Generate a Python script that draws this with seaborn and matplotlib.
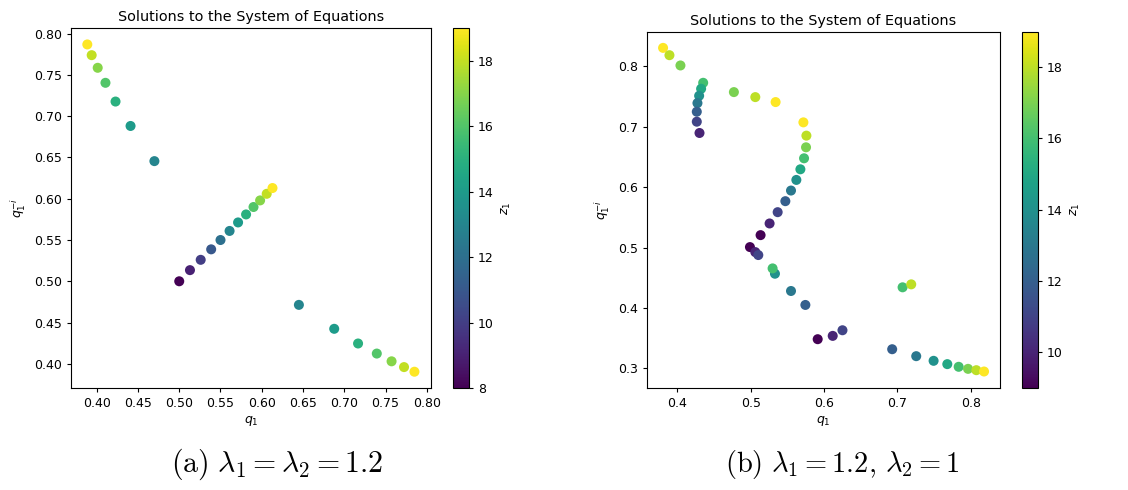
import numpy as np
import pandas as pd
import matplotlib
matplotlib.use("Agg")
import matplotlib.pyplot as plt
import seaborn as sns
from matplotlib.colors import Normalize
from matplotlib.cm import ScalarMappable

# ---- Panel (a): lambda1 = lambda2 = 1.2 ----
q1_a = [0.500, 0.513, 0.526, 0.5387, 0.550, 0.561, 0.5713, 0.581, 0.590, 0.598, 0.606, 0.613,
        0.4699, 0.441, 0.4228, 0.4106, 0.4012, 0.3939, 0.3886,
        0.645, 0.6878, 0.7167, 0.7394, 0.7573, 0.7724, 0.785]
q1o_a = [0.500, 0.5135, 0.526, 0.5387, 0.550, 0.561, 0.5713, 0.581, 0.590, 0.598, 0.606, 0.613,
         0.6456, 0.6882, 0.7178, 0.7405, 0.7587, 0.774, 0.787,
         0.4714, 0.4424, 0.4246, 0.4124, 0.403, 0.396, 0.3904]
z_a = [8, 9, 10, 11, 12, 13, 14, 15, 16, 17, 18, 19,
       13, 14, 15, 16, 17, 18, 19,
       13, 14, 15, 16, 17, 18, 19]

# ---- Panel (b): lambda1 = 1.2, lambda2 = 1 ----
q1_b = [0.3804, 0.3891, 0.4041, 0.4351, 0.4323, 0.4296, 0.4273, 0.4264, 0.4264, 0.4301,
        0.477, 0.5062, 0.5339,
        0.5718, 0.5759, 0.5754, 0.5727, 0.5677, 0.5622, 0.5549, 0.5472, 0.5367, 0.5257, 0.5134,
        0.4989, 0.5062, 0.5103,
        0.533, 0.5298, 0.5549, 0.5745,
        0.5913, 0.6118, 0.6251,
        0.6929, 0.7257, 0.7494, 0.7681, 0.7836, 0.7964, 0.8077, 0.8182,
        0.7071, 0.7189]
q1o_b = [0.8308, 0.8187, 0.8017, 0.773, 0.7631, 0.7515, 0.7394, 0.7251, 0.7086, 0.6899,
         0.7576, 0.7493, 0.7411,
         0.7075, 0.6855, 0.6662, 0.648, 0.6298, 0.6122, 0.5946, 0.577, 0.5588, 0.5401, 0.5208,
         0.501, 0.4927, 0.4878,
         0.4569, 0.4657, 0.4283, 0.4052,
         0.3485, 0.354, 0.3633,
         0.3319, 0.3204, 0.3127, 0.3072, 0.3028, 0.2994, 0.2972, 0.295,
         0.4344, 0.4393]
z_b = [19, 18, 17, 16, 15, 14, 13, 12, 11, 10,
       17, 18, 19,
       19, 18, 17, 16, 15, 14, 13, 12, 11, 10, 9,
       9, 10, 11,
       14, 16, 13, 12,
       9, 10, 11,
       12, 13, 14, 15, 16, 17, 18, 19,
       16, 18]

title = "Solutions to the System of Equations"
captions = [r"$\mathrm{(a)}\ \lambda_1 = \lambda_2 = 1.2$",
            r"$\mathrm{(b)}\ \lambda_1 = 1.2,\, \lambda_2 = 1$"]

plt.rcParams["mathtext.fontset"] = "dejavusans"

fig = plt.figure(figsize=(11.28, 4.9), dpi=100)

panels = [
    (pd.DataFrame({"q1": q1_a, "q1o": q1o_a, "z": z_a}), (8, 19),
     [0.0629, 0.208, 0.319, 0.7347], [0.4016, 0.208, 0.0142, 0.7347]),
    (pd.DataFrame({"q1": q1_b, "q1o": q1o_b, "z": z_b}), (9, 19),
     [0.5736, 0.2088, 0.313, 0.7265], [0.906, 0.2088, 0.0142, 0.7265]),
]

for i, (df, (zmin, zmax), axpos, cpos) in enumerate(panels):
    ax = fig.add_axes(axpos)
    cax = fig.add_axes(cpos)
    sns.scatterplot(data=df, x="q1", y="q1o", hue="z", palette="viridis",
                    hue_norm=(zmin, zmax), legend=False, s=52, edgecolor="none",
                    linewidth=0, ax=ax)
    ax.set_title(title, fontsize=10.4, pad=5)
    ax.set_xlabel(r"$q_1$", fontsize=9, labelpad=3)
    ax.set_ylabel(r"$q_1^{-i}$", fontsize=9, labelpad=4)
    ax.tick_params(labelsize=9, length=3)
    sm = ScalarMappable(norm=Normalize(zmin, zmax), cmap="viridis")
    cb = fig.colorbar(sm, cax=cax)
    cb.set_label(r"$z_1$", fontsize=9)
    cb.ax.tick_params(labelsize=9, length=3)

plt.rcParams["mathtext.fontset"] = "cm"
fig.text(0.246, 0.052, captions[0], ha="center", va="center", fontsize=21.5)
fig.text(0.747, 0.052, captions[1], ha="center", va="center", fontsize=20.5)

fig.savefig("out.png", dpi=100)
